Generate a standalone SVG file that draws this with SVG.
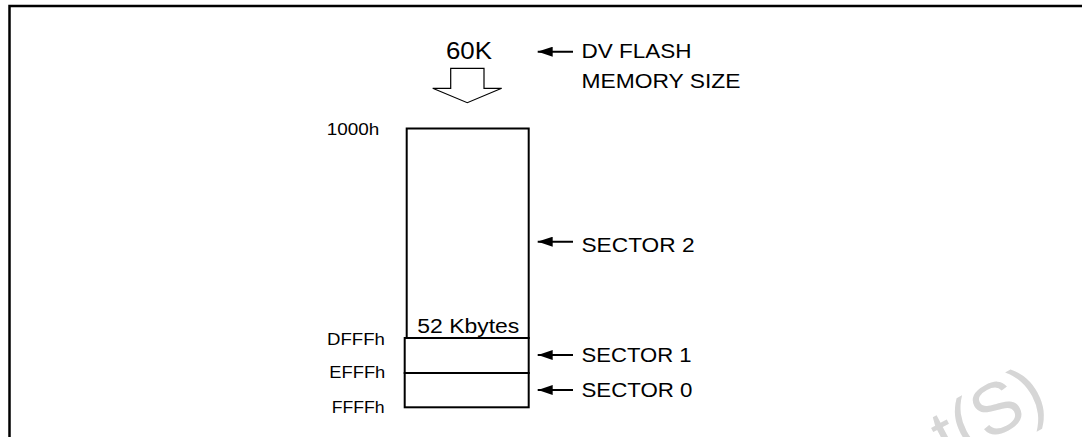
<svg xmlns="http://www.w3.org/2000/svg" width="1082" height="437" viewBox="0 0 1082 437">
<style>
text{font-family:"Liberation Sans",Arial,sans-serif;fill:#000}
.lbl{font-size:20.5px}
.hex{font-size:16.5px}
.box{fill:#fff;stroke:#000;stroke-width:2}
.ptr{stroke:#000;stroke-width:2;fill:none}
.wm{font-size:72px;fill:#d6d6d6}
</style>
<defs>
<marker id="ah" viewBox="0 0 15 10" refX="15" refY="5" markerWidth="15" markerHeight="10" markerUnits="userSpaceOnUse" orient="auto">
<path d="M15,5 L0,0 L0,10 Z" fill="#000"/>
</marker>
</defs>
<rect width="1082" height="437" fill="#fff"/>
<text class="wm" transform="translate(948,462) rotate(-28)">t(S)</text>
<path d="M9.5,437 V6 H1082" fill="none" stroke="#000" stroke-width="2.5"/>
<g id="size-label">
<text x="446" y="58.5" style="font-size:23px" textLength="46" lengthAdjust="spacingAndGlyphs">60K</text>
<path d="M450.7,68.3 H484 V88.3 H501.7 L467.3,102.7 L432.7,88.3 H450.7 Z" fill="#fff" stroke="#000" stroke-width="1.2"/>
</g>
<g id="flash-note">
<text x="581.5" y="58.3" class="lbl" textLength="110" lengthAdjust="spacingAndGlyphs">DV FLASH</text>
<text x="581.5" y="88.3" class="lbl" textLength="159" lengthAdjust="spacingAndGlyphs">MEMORY SIZE</text>
</g>
<g id="sector2">
<rect class="box" x="406.7" y="128.5" width="122" height="209.5"/>
<text x="417.3" y="333" class="lbl" textLength="102" lengthAdjust="spacingAndGlyphs">52 Kbytes</text>
<text x="581.5" y="251.7" class="lbl" textLength="113" lengthAdjust="spacingAndGlyphs">SECTOR 2</text>
</g>
<g id="sector1">
<rect class="box" x="404.7" y="338" width="124" height="35"/>
<text x="581.5" y="362.3" class="lbl" textLength="110" lengthAdjust="spacingAndGlyphs">SECTOR 1</text>
</g>
<g id="sector0">
<rect class="box" x="404.7" y="373" width="124" height="34.3"/>
<text x="581.5" y="397.3" class="lbl" textLength="111" lengthAdjust="spacingAndGlyphs">SECTOR 0</text>
</g>
<g id="addresses">
<text x="326.7" y="135" class="hex" textLength="52.6" lengthAdjust="spacingAndGlyphs">1000h</text>
<text x="327" y="345.3" class="hex" textLength="58" lengthAdjust="spacingAndGlyphs">DFFFh</text>
<text x="329.3" y="378.3" class="hex" textLength="56" lengthAdjust="spacingAndGlyphs">EFFFh</text>
<text x="331.7" y="413.3" class="hex" textLength="53" lengthAdjust="spacingAndGlyphs">FFFFh</text>
</g>
<g id="connectors">
<line class="ptr" x1="573" y1="51.7" x2="537.7" y2="51.7" marker-end="url(#ah)"/>
<line class="ptr" x1="573" y1="241.7" x2="537.7" y2="241.7" marker-end="url(#ah)"/>
<line class="ptr" x1="573" y1="355" x2="537.7" y2="355" marker-end="url(#ah)"/>
<line class="ptr" x1="573" y1="390" x2="537.7" y2="390" marker-end="url(#ah)"/>
</g>
</svg>
